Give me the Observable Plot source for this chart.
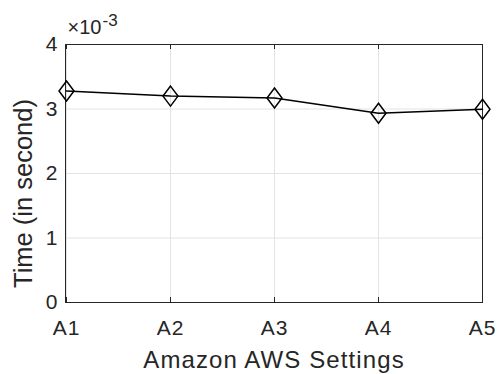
<!DOCTYPE html>
<html>
<head>
<meta charset="utf-8">
<script src="https://cdn.jsdelivr.net/npm/d3@7"></script>
<script src="https://cdn.jsdelivr.net/npm/@observablehq/plot@0.6"></script>
<style>
  html, body { margin: 0; padding: 0; background: #fff; }
  svg { font-family: "Liberation Sans", Arial, Helvetica, sans-serif; }
  g[aria-label="text"][font-size="24"] text { letter-spacing: 1.1px; }
  g[aria-label="x-axis tick label"] text { letter-spacing: 1px; }
</style>
</head>
<body>
<div id="chart"></div>
<script>
const settings = ["A1", "A2", "A3", "A4", "A5"];
const timeSeconds = [0.00328, 0.00320, 0.00317, 0.002935, 0.002995];
const yTicks = [0, 1, 2, 3, 4];
const exponent = -3;
const xLabel = "Amazon AWS Settings";
const yLabel = "Time (in second)";

const scaleFactor = Math.pow(10, -exponent);
const data = settings.map((s, i) => ({setting: s, time: timeSeconds[i]}));

const tallDiamond = {
  draw(context) {
    const w = 7.5, h = 10;
    context.moveTo(0, -h);
    context.lineTo(w, 0);
    context.lineTo(0, h);
    context.lineTo(-w, 0);
    context.closePath();
  }
};

const ink = "#262626";

const chart = Plot.plot({
  width: 499,
  height: 374,
  marginLeft: 65,
  marginRight: 17,
  marginTop: 44,
  marginBottom: 72,
  style: {fontFamily: "Liberation Sans, Arial, sans-serif", color: ink, background: "#fff"},
  x: {type: "point", domain: settings, padding: 0},
  y: {domain: [0, 4], ticks: yTicks},
  marks: [
    Plot.gridX(settings, {stroke: "#e3e3e3", strokeOpacity: 1, strokeWidth: 1}),
    Plot.gridY(yTicks, {stroke: "#e3e3e3", strokeOpacity: 1, strokeWidth: 1}),
    Plot.ruleX(settings, {x: d => d, y1: 0, y2: 0, insetBottom: 5, stroke: ink, strokeWidth: 1}),
    Plot.ruleX(settings, {x: d => d, y1: 4, y2: 4, insetTop: 5, stroke: ink, strokeWidth: 1}),
    Plot.frame({stroke: ink, strokeWidth: 1}),
    Plot.axisX({tickSize: 0, tickPadding: 18, fontSize: 21, label: null, fill: ink}),
    Plot.axisY({tickSize: 0, tickPadding: 8, fontSize: 21, label: null, ticks: yTicks, tickFormat: d => String(d), fill: ink}),
    Plot.line(data, {x: "setting", y: d => d.time * scaleFactor, stroke: "#000", strokeWidth: 1.5}),
    Plot.dot(data, {x: "setting", y: d => d.time * scaleFactor, symbol: tallDiamond, stroke: "#000", strokeWidth: 1.5, fill: "none"}),
    Plot.text([xLabel], {text: d => d, frameAnchor: "bottom", textAnchor: "middle", lineAnchor: "bottom", dy: 65, fontSize: 24, fill: ink}),
    Plot.text([yLabel], {text: d => d, frameAnchor: "left", textAnchor: "middle", lineAnchor: "bottom", rotate: -90, dx: -34, dy: 20, fontSize: 25.5, fill: ink}),
    Plot.text(["\u00d710"], {text: d => d, frameAnchor: "top-left", textAnchor: "start", lineAnchor: "bottom", dx: 2, dy: -11, fontSize: 20, fill: ink}),
    Plot.text([String(exponent)], {text: d => d, frameAnchor: "top-left", textAnchor: "start", lineAnchor: "bottom", dx: 37, dy: -19, fontSize: 17, fill: ink})
  ]
});

document.getElementById("chart").appendChild(chart);
</script>
</body>
</html>
